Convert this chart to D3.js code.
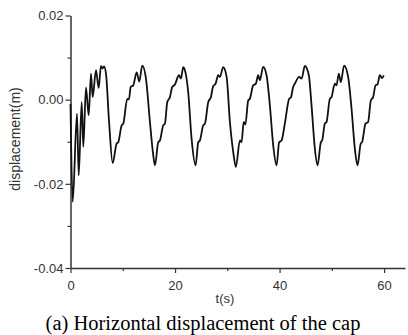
<!DOCTYPE html>
<html>
<head>
<meta charset="utf-8">
<script src="https://d3js.org/d3.v7.min.js"></script>
<style>
  body { margin: 0; background: #fff; }
</style>
</head>
<body>
<svg width="408" height="335"></svg>

<script>

// time (s) and horizontal displacement (m)
var time = [0, 0.42, 1.24, 1.57, 2.14, 2.45, 2.96, 3.48, 3.92, 4.24, 4.88, 5.39, 5.83, 6.12, 6.41, 6.79, 7.36, 8.07,
  8.83, 9.14, 9.79, 10.10, 10.86, 11.19, 11.51, 12.01, 12.66, 13.15, 13.73, 14.44, 15.2, 15.83, 16.16,
  16.79, 17.11, 17.74, 18.07, 18.51, 19.02, 19.46, 19.98, 20.75, 21.13, 21.57, 21.89, 22.52, 23.17, 23.94,
  24.44, 24.76, 25.39, 25.72, 26.35, 26.86, 27.30, 27.76, 28.26, 28.59, 29.22, 29.87, 30.5, 31.13, 31.64,
  32.41, 32.73, 33.14, 33.46, 34.0, 34.32, 34.95, 35.47, 35.91, 36.23, 36.86, 37.51, 38.15, 38.78, 39.43,
  39.92, 40.38, 41.01, 41.84, 42.16, 42.60, 42.92, 43.75, 44.21, 44.84, 45.6, 46.12, 46.75, 47.27,
  47.9, 48.15, 48.66, 48.99, 49.62, 49.94, 50.57, 50.90, 51.34, 51.72, 52.35, 53.12, 53.77, 54.4, 54.91,
  55.54, 55.79, 56.44, 56.94, 57.46, 57.90, 58.36, 58.74, 59.18, 59.62, 59.94];

var disp = [-0.001, -0.0243, -0.0033, -0.0180, -0.0006, -0.0112, 0.0029, -0.0037, 0.0062, 0.0006, 0.0070, 0.0028, 0.0080, 0.0074, 0.0079, 0.0062, -0.0049, -0.0151,
  -0.0104, -0.0101, -0.0061, -0.0057, 0.0002, 0.0001, 0.0030, 0.0034, 0.0065, 0.0043, 0.0081, 0.0050, -0.0053, -0.0132, -0.0156,
  -0.0101, -0.0097, -0.0061, -0.0057, -0.0006, 0.0006, 0.0030, 0.0036, 0.0058, 0.0050, 0.0077, 0.0070, 0.0018, -0.0093, -0.0156,
  -0.0101, -0.0097, -0.0061, -0.0057, -0.0006, 0.0006, 0.0032, 0.0038, 0.0058, 0.0054, 0.0077, 0.0054, -0.0053, -0.0124, -0.0160,
  -0.0097, -0.0101, -0.0053, -0.0059, -0.0002, 0.0002, 0.0034, 0.0038, 0.0058, 0.0046, 0.0078, 0.0058, -0.0014, -0.0108, -0.0156,
  -0.0101, -0.0097, -0.0057, 0.0002, 0.0005, 0.0030, 0.0038, 0.0054, 0.0050, 0.0080, 0.0058, -0.0014, -0.0116, -0.0156,
  -0.0101, -0.0097, -0.0057, -0.0053, 0.0002, 0.0006, 0.0038, 0.0034, 0.0062, 0.0042, 0.0081, 0.0054, -0.0021, -0.0116, -0.0156,
  -0.0104, -0.0101, -0.0057, -0.0053, -0.0002, 0.0006, 0.0034, 0.0036, 0.0058, 0.0051, 0.0058];

var xTicks = [0, 20, 40, 60];
var xMinor = [10, 30, 50];
var yTicks = [-0.04, -0.02, 0.00, 0.02];
var yMinor = [-0.03, -0.01, 0.01];

var svg = d3.select("svg");

// plot box (note: "top" is taken by window.top, so use other names)
var plotLeft = 70.5, plotRight = 405, plotTop = 15.5, plotBottom = 268;

var xScale = d3.scaleLinear().domain([0, 64]).range([plotLeft, plotRight]);
var yScale = d3.scaleLinear().domain([-0.04, 0.02]).range([plotBottom, plotTop]);

var axisColor = "#333";

// x axis
var xAxis = svg.append("g")
  .attr("transform", "translate(0," + plotBottom + ")")
  .call(d3.axisBottom(xScale).tickValues(xTicks).tickSize(5).tickSizeOuter(0)
    .tickFormat(d3.format("d")));

svg.append("g")
  .attr("transform", "translate(0," + plotBottom + ")")
  .call(d3.axisBottom(xScale).tickValues(xMinor).tickSize(3).tickSizeOuter(0).tickFormat(""))
  .select(".domain").remove();

// y axis - plain hyphen for the minus sign, like the original
var yAxis = svg.append("g")
  .attr("transform", "translate(" + plotLeft + ",0)")
  .call(d3.axisLeft(yScale).tickValues(yTicks).tickSize(5).tickSizeOuter(0)
    .tickFormat(function (d) { return d.toFixed(2); }));

svg.append("g")
  .attr("transform", "translate(" + plotLeft + ",0)")
  .call(d3.axisLeft(yScale).tickValues(yMinor).tickSize(3).tickSizeOuter(0).tickFormat(""))
  .select(".domain").remove();

svg.selectAll(".domain").attr("stroke", axisColor).attr("stroke-width", 1.5);
svg.selectAll(".tick line").attr("stroke", axisColor).attr("stroke-width", 1.2);
svg.selectAll(".tick text")
  .attr("fill", "#333")
  .style("font-family", "'Liberation Sans', Arial, sans-serif")
  .style("font-size", "13px");

xAxis.selectAll(".tick text").attr("dy", "1.1em");
yAxis.selectAll(".tick text").attr("x", -7);

// axis labels
svg.append("text")
  .attr("x", 225)
  .attr("y", 303)
  .attr("text-anchor", "middle")
  .attr("fill", "#333")
  .style("font-family", "'Liberation Sans', Arial, sans-serif")
  .style("font-size", "13px")
  .text("t(s)");

svg.append("text")
  .attr("text-anchor", "middle")
  .attr("transform", "translate(20,139)rotate(-90)")
  .attr("fill", "#333")
  .style("font-family", "'Liberation Sans', Arial, sans-serif")
  .style("font-size", "14px")
  .text("displacement(m)");

// the curve
var points = time.map(function (t, i) { return [t, disp[i]]; });

var line = d3.line()
  .x(function (d) { return xScale(d[0]); })
  .y(function (d) { return yScale(d[1]); })
  .curve(d3.curveMonotoneX);

svg.append("path")
  .datum(points)
  .attr("d", line)
  .style("fill", "none")
  .style("stroke", "#111")
  .style("stroke-width", "1.8")
  .style("stroke-linejoin", "round");

// caption
svg.append("text")
  .attr("x", 203)
  .attr("y", 330)
  .attr("text-anchor", "middle")
  .attr("fill", "#000")
  .style("font-family", "'Liberation Serif', 'Times New Roman', serif")
  .style("font-size", "20.5px")
  .text("(a) Horizontal displacement of the cap");

</script>
</body>
</html>
